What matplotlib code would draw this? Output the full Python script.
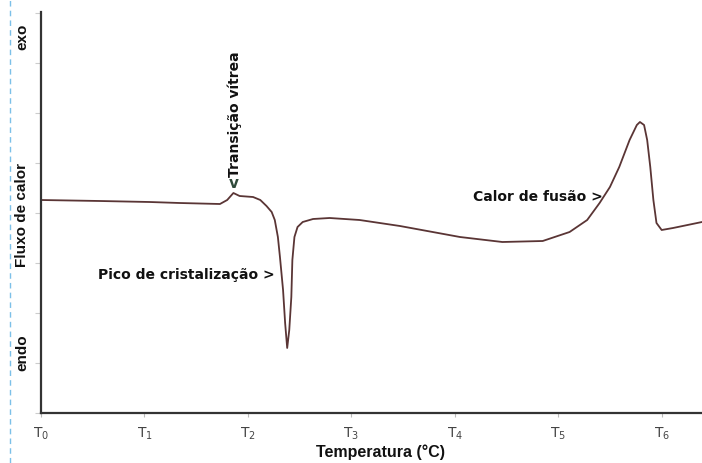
import matplotlib
matplotlib.use("Agg")
import matplotlib.pyplot as plt
from matplotlib.lines import Line2D

# Curva DSC (temperatura em unidades T, fluxo de calor em unidades arbitrarias)
temperatura = [0.00, 0.57, 1.05, 1.34, 1.73, 1.80, 1.86, 1.92, 2.05, 2.12, 2.18,
               2.23, 2.26, 2.29, 2.31, 2.34, 2.36, 2.38, 2.40, 2.42, 2.43, 2.45,
               2.48, 2.53, 2.63, 2.79, 3.08, 3.47, 4.05, 4.46, 4.85, 5.11, 5.28,
               5.40, 5.50, 5.59, 5.69, 5.76, 5.79, 5.83, 5.86, 5.89, 5.92, 5.95,
               6.00, 6.11, 6.39]
fluxo = [4.26, 4.24, 4.22, 4.20, 4.18, 4.26, 4.40, 4.34, 4.32, 4.26, 4.14,
         4.02, 3.86, 3.52, 3.12, 2.46, 1.80, 1.30, 1.66, 2.32, 3.06, 3.52,
         3.72, 3.82, 3.88, 3.90, 3.86, 3.74, 3.52, 3.42, 3.44, 3.62, 3.86,
         4.20, 4.52, 4.92, 5.46, 5.76, 5.82, 5.76, 5.46, 4.92, 4.26, 3.80,
         3.66, 3.70, 3.82]

ticks_x = [0, 1, 2, 3, 4, 5, 6]
labels_x = ["T$_0$", "T$_1$", "T$_2$", "T$_3$", "T$_4$", "T$_5$", "T$_6$"]
ticks_y = [0, 1, 2, 3, 4, 5, 6, 7, 8]

fig = plt.figure(figsize=(7.02, 4.63), dpi=100)
ax = fig.add_axes([41 / 702, 50 / 463, 661 / 702, 401 / 463])

ax.plot(temperatura, fluxo, color="#5a3535", linewidth=1.3)
ax.set_xlim(0, 6.39)
ax.set_ylim(0, 8.02)

for s in ["top", "right"]:
    ax.spines[s].set_visible(False)
for s in ["left", "bottom"]:
    ax.spines[s].set_color("#333333")
    ax.spines[s].set_linewidth(1.6)

ax.set_xticks(ticks_x)
ax.set_xticklabels(labels_x, fontsize=10, color="#444444", family="Liberation Sans Narrow")
ax.set_yticks(ticks_y)
ax.set_yticklabels([])
ax.tick_params(axis="x", length=3, color="#bbbbbb", pad=6)
ax.tick_params(axis="y", length=4, color="#cccccc")

fig.text(380 / 702, 1 - 452 / 463, "Temperatura (°C)", ha="center", va="center",
         fontsize=11.5, fontweight="bold", family="Liberation Sans", color="#111111")

txt = dict(fontsize=10, fontweight="bold", family="DejaVu Sans", color="#111111")
ax.text(2.26, 2.76, "Pico de cristalização >", ha="right", va="center", **txt)
ax.text(5.43, 4.32, "Calor de fusão >", ha="right", va="center", **txt)
ax.text(1.87, 4.72, "Transição vítrea", rotation=90, ha="center", va="bottom", **txt)
ax.text(1.86, 4.60, "v", ha="center", va="center", fontsize=11, fontweight="bold",
        family="DejaVu Sans", color="#2f4a3a")

lado = dict(rotation=90, ha="center", va="center", fontsize=11, fontweight="bold",
            family="Liberation Sans", color="#111111")
fig.text(22 / 702, 1 - 37 / 463, "exo", **lado)
fig.text(22 / 702, 1 - 215 / 463, "Fluxo de calor", **lado)
fig.text(22 / 702, 1 - 353 / 463, "endo", **lado)

fig.add_artist(Line2D([10 / 702, 10 / 702], [0, 1], transform=fig.transFigure,
                      color="#7cc0e8", linewidth=1, linestyle=(0, (4, 3))))

fig.savefig("out.png", dpi=100)
